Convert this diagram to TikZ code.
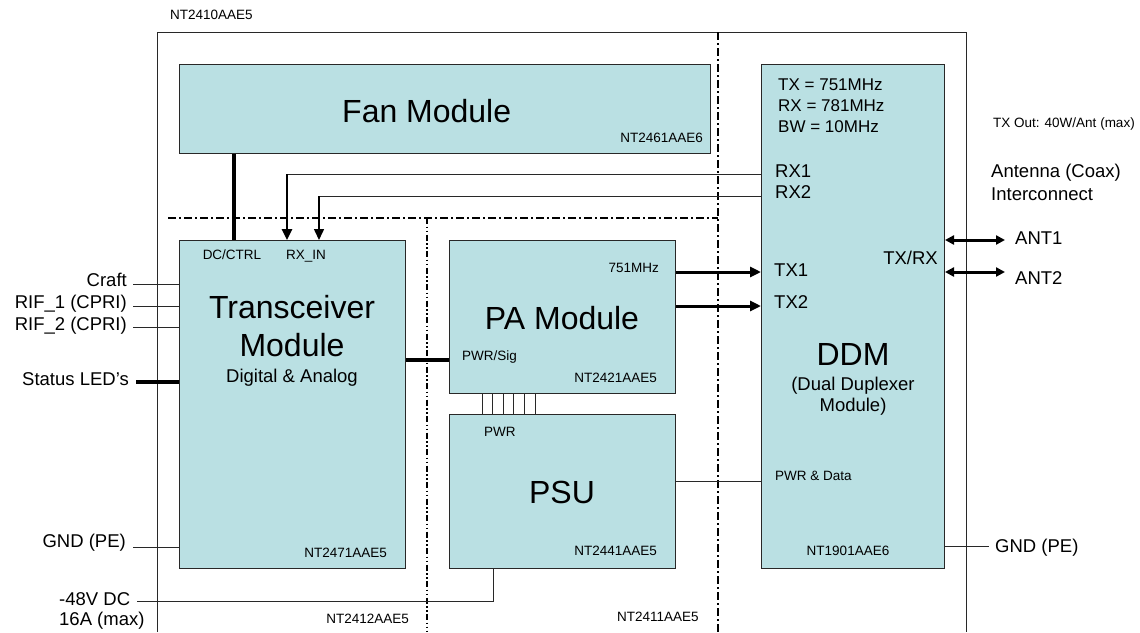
\documentclass[tikz,border=0pt]{standalone}
\usepackage{fontspec}
\setmainfont{Liberation Sans}
\usetikzlibrary{arrows.meta}
\definecolor{modfill}{RGB}{186,224,227}
\definecolor{edge}{RGB}{40,40,40}
\begin{document}
\begin{tikzpicture}[x=1pt,y=-1pt,
  modbox/.style={draw=edge, fill=modfill, line width=1pt, inner sep=0pt, anchor=north west},
  big/.style={font=\fontsize{32}{36}\selectfont, inner sep=0pt},
  mid/.style={font=\fontsize{18.5}{21}\selectfont, inner sep=0pt},
  spec/.style={font=\fontsize{17}{20}\selectfont, inner sep=0pt},
  small/.style={font=\fontsize{13.5}{16}\selectfont, inner sep=0pt},
  wire/.style={line width=1pt, draw=edge},
  heavy/.style={line width=4pt},
  bus/.style={line width=3pt},
  sepline/.style={line width=1.6pt, dash pattern=on 8pt off 3pt on 2pt off 3pt},
  sepdots/.style={line width=1.6pt, dash pattern=on 6pt off 2.5pt on 1.5pt off 2.5pt on 1.5pt off 2.5pt},
  arr/.style={-{Triangle[width=10pt,length=11pt]}},
  darr/.style={{Triangle[width=9pt,length=9pt]}-{Triangle[width=9pt,length=9pt]}}
]
\useasboundingbox (0,0) rectangle (1140,632);

% outer frame
\draw[line width=1pt, edge] (157,632) -- (157,32) -- (966,32) -- (966,632);
\node[small, anchor=base west] (outerlbl) at (170,19) {NT2410AAE5};

% separators
\draw[sepline] (168,218) -- (718,218);
\draw[sepline] (718,32) -- (718,632);
\draw[sepdots] (427,218) -- (427,632);

% modules
\node[modbox, minimum width=531pt, minimum height=89pt] (fan) at (179,64) {};
\node[modbox, minimum width=226pt, minimum height=328pt] (trx) at (179,240) {};
\node[modbox, minimum width=226pt, minimum height=153pt] (pa) at (449,240) {};
\node[modbox, minimum width=226pt, minimum height=154pt] (psu) at (449,414) {};
\node[modbox, minimum width=183pt, minimum height=504pt] (ddm) at (761,64) {};

% fan texts
\node[big, anchor=base west] (fantxt) at (342,122) {Fan Module};
\node[small, anchor=base east] (fanid) at (703,142) {NT2461AAE6};

% transceiver texts
\node[big, anchor=base] (trx1) at (292,318) {Transceiver};
\node[big, anchor=base] (trx2) at (292,356) {Module};
\node[mid, anchor=base] (trx3) at (292,382) {Digital \& Analog};
\node[small, anchor=base] (dcctrl) at (232,259) {DC/CTRL};
\node[small, anchor=base west] (rxin) at (286,259) {RX\_IN};
\node[small, anchor=base east] (trxid) at (387,557) {NT2471AAE5};

% PA texts
\node[big, anchor=base] (patxt) at (562,329) {PA Module};
\node[small, anchor=base east] (pafreq) at (659,272) {751MHz};
\node[small, anchor=base west] (pasig) at (462,360) {PWR/Sig};
\node[small, anchor=base east] (paid) at (657,382) {NT2421AAE5};

% PSU texts
\node[small, anchor=base west] (psupwr) at (484,436) {PWR};
\node[big, anchor=base] (psutxt) at (562,503) {PSU};
\node[small, anchor=base east] (psuid) at (657,555) {NT2441AAE5};

% DDM texts
\node[spec, anchor=base west] (ddmtx) at (778,90) {TX = 751MHz};
\node[spec, anchor=base west] (ddmrx) at (778,111) {RX = 781MHz};
\node[spec, anchor=base west] (ddmbw) at (778,132) {BW = 10MHz};
\node[mid, anchor=base west] (ddmrx1) at (775,177) {RX1};
\node[mid, anchor=base west] (ddmrx2) at (775,198) {RX2};
\node[mid, anchor=base west] (ddmtx1) at (774,276) {TX1};
\node[mid, anchor=base west] (ddmtx2) at (774,308) {TX2};
\node[mid, anchor=base east] (ddmtxrx) at (938,264) {TX/RX};
\node[big, anchor=base] (ddmtxt) at (853,365) {DDM};
\node[mid, anchor=base] (ddmsub1) at (853,390) {(Dual Duplexer};
\node[mid, anchor=base] (ddmsub2) at (853,411) {Module)};
\node[small, anchor=base west] (ddmpwr) at (775,480) {PWR \& Data};
\node[small, anchor=base] (ddmid) at (848,555) {NT1901AAE6};

% zone labels
\node[small, anchor=base east] (z12) at (409,623) {NT2412AAE5};
\node[small, anchor=base west] (z11) at (617,621) {NT2411AAE5};

% left external labels
\node[mid, anchor=base east] (craft) at (127,286) {Craft};
\node[mid, anchor=base east] (rif1) at (127,308) {RIF\_1 (CPRI)};
\node[mid, anchor=base east] (rif2) at (127,330) {RIF\_2 (CPRI)};
\node[mid, anchor=base east] (led) at (129,385) {Status LED’s};
\node[mid, anchor=base east] (gndl) at (126,547) {GND (PE)};
\node[mid, anchor=base west] (v48a) at (59,605) {-48V DC};
\node[mid, anchor=base west] (v48b) at (59,625) {16A (max)};

% right external labels
\node[small, anchor=base west] (txout) at (993,127) {TX Out: 40W/Ant (max)};
\node[mid, anchor=base west] (antc) at (991,177) {Antenna (Coax)};
\node[mid, anchor=base west] (antd) at (991,200) {Interconnect};
\node[mid, anchor=base west] (ant1) at (1015,244) {ANT1};
\node[mid, anchor=base west] (ant2) at (1015,284) {ANT2};
\node[mid, anchor=base west] (gndr) at (995,552) {GND (PE)};

% connector coordinates
\coordinate (dcx) at (234,0);
\coordinate (rx1c) at (287,174);
\coordinate (rx2c) at (319,196);
\coordinate (psig) at (0,360);
\coordinate (tx1c) at (0,272);
\coordinate (tx2c) at (0,306);
\coordinate (pdc) at (0,481);
\coordinate (v48e) at (137,601);
\coordinate (v48c) at (493,601);
\coordinate (craftc) at (133,284);
\coordinate (rif1c) at (133,306);
\coordinate (rif2c) at (133,327);
\coordinate (ledc) at (136,382);
\coordinate (gndlc) at (133,547);
\coordinate (gndrc) at (989,546);
\coordinate (ant1c) at (1005,240);
\coordinate (ant2c) at (1005,272);

% connectors
\draw[heavy] (fan.south -| dcx) -- (trx.north -| dcx);
\draw[wire] (ddm.west |- rx1c) -- (rx1c);
\draw[line width=2.5pt, arr] (rx1c) -- (trx.north -| rx1c);
\draw[wire] (ddm.west |- rx2c) -- (rx2c);
\draw[line width=1.5pt, arr] (rx2c) -- (trx.north -| rx2c);
\draw[heavy] (trx.east |- psig) -- (pa.west |- psig);
\draw[bus, arr] (pa.east |- tx1c) -- (ddm.west |- tx1c);
\draw[bus, arr] (pa.east |- tx2c) -- (ddm.west |- tx2c);
\foreach \cx [count=\i] in {482,492,503,513,524,535} {
  \coordinate (comb\i) at (\cx,0);
  \draw[wire] (pa.south -| comb\i) -- (psu.north -| comb\i);
}
\draw[wire] (psu.east |- pdc) -- (ddm.west |- pdc);
\draw[wire] (v48e) -- (v48c) -- (psu.south -| v48c);
\draw[wire] (craftc) -- (trx.west |- craftc);
\draw[wire] (rif1c) -- (trx.west |- rif1c);
\draw[wire] (rif2c) -- (trx.west |- rif2c);
\draw[heavy] (ledc) -- (trx.west |- ledc);
\draw[wire] (gndlc) -- (trx.west |- gndlc);
\draw[wire] (ddm.east |- gndrc) -- (gndrc);
\draw[bus, darr] (ddm.east |- ant1c) -- (ant1c);
\draw[bus, darr] (ddm.east |- ant2c) -- (ant2c);
\end{tikzpicture}
\end{document}
